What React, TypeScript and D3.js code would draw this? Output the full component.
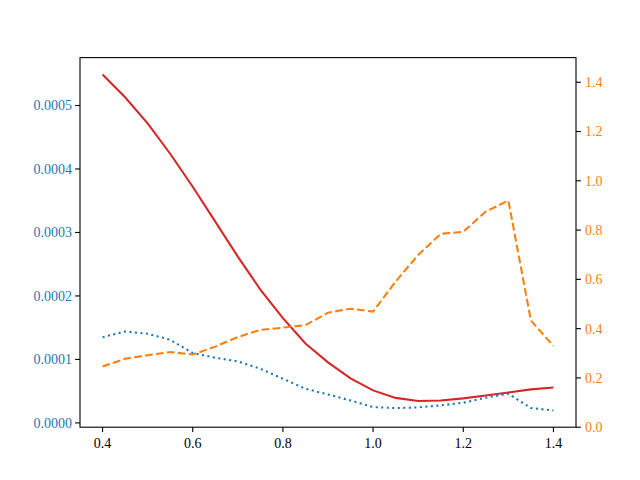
import React from "react";
import * as d3 from "d3";

const xs = [0.4, 0.45, 0.5, 0.55, 0.6, 0.65, 0.7, 0.75, 0.8, 0.85, 0.9, 0.95, 1.0, 1.05, 1.1, 1.15, 1.2, 1.25, 1.3, 1.35, 1.4];
const redSeries = [0.000549, 0.000513, 0.000472, 0.000424, 0.000372, 0.000317, 0.000262, 0.00021, 0.000165, 0.000125, 0.0000953, 0.0000701, 0.0000512, 0.0000394, 0.0000346, 0.0000354, 0.0000386, 0.0000433, 0.000048, 0.0000528, 0.0000559];
const blueSeries = [0.000135, 0.000144, 0.0001405, 0.000131, 0.00011, 0.0001027, 0.0000969, 0.0000853, 0.0000696, 0.0000538, 0.0000449, 0.0000354, 0.0000249, 0.0000233, 0.0000244, 0.0000276, 0.0000318, 0.0000397, 0.000046, 0.0000233, 0.0000197];
const orangeSeries = [0.246, 0.278, 0.292, 0.305, 0.295, 0.327, 0.366, 0.395, 0.404, 0.414, 0.465, 0.481, 0.469, 0.591, 0.699, 0.785, 0.793, 0.875, 0.92, 0.433, 0.33];
const xTicks = [0.4, 0.6, 0.8, 1.0, 1.2, 1.4];
const leftTicks = [0, 0.0001, 0.0002, 0.0003, 0.0004, 0.0005];
const rightTicks = [0, 0.2, 0.4, 0.6, 0.8, 1.0, 1.2, 1.4];
const rightDomain = [0, 1.5];

const W = 640, H = 480;
const L = 80, R = 576, T = 57.6, B = 427.2;
const FONT = "'Liberation Serif', 'DejaVu Serif', serif";
const LW = 2.08;

export default function App() {
  const xMin = d3.min(xs)!, xMax = d3.max(xs)!;
  const xPad = (xMax - xMin) * 0.05;
  const x = d3.scaleLinear().domain([xMin - xPad, xMax + xPad]).range([L, R]);
  const lAll = [...redSeries, ...blueSeries];
  const lMin = d3.min(lAll)!, lMax = d3.max(lAll)!;
  const lPad = (lMax - lMin) * 0.05;
  const yL = d3.scaleLinear().domain([lMin - lPad, lMax + lPad]).range([B, T]);
  const yR = d3.scaleLinear().domain(rightDomain).range([B, T]);

  const lineL = (vals: number[]) =>
    d3.line<number>().x((_, i) => x(xs[i])).y((v) => yL(v))(vals) || "";
  const lineR = (vals: number[]) =>
    d3.line<number>().x((_, i) => x(xs[i])).y((v) => yR(v))(vals) || "";

  const fmtL = d3.format(".4f");
  const fmtR = d3.format(".1f");
  const fmtX = d3.format(".1f");

  return (
    <svg width={W} height={H} style={{ position: "absolute", left: 0, top: 0, background: "#fff" }}>
      <rect x={0} y={0} width={W} height={H} fill="#fff" />
      <path d={lineL(redSeries)} fill="none" stroke="#d62728" strokeWidth={LW} />
      <path d={lineL(blueSeries)} fill="none" stroke="#1f77b4" strokeWidth={LW} strokeDasharray="2.08,3.44" />
      <path d={lineR(orangeSeries)} fill="none" stroke="#ff7f0e" strokeWidth={LW} strokeDasharray="7.7,3.33" />
      <rect x={L} y={T} width={R - L} height={B - T} fill="none" stroke="#000" strokeWidth={1.1} />
      {xTicks.map((t) => (
        <g key={"x" + t}>
          <line x1={x(t)} x2={x(t)} y1={B} y2={B + 4.9} stroke="#000" strokeWidth={1.1} />
          <text x={x(t)} y={B + 20.5} textAnchor="middle" fontFamily={FONT} fontSize={14} fill="#000">{fmtX(t)}</text>
        </g>
      ))}
      {leftTicks.map((t) => (
        <g key={"l" + t}>
          <line x1={L - 4.9} x2={L} y1={yL(t)} y2={yL(t)} stroke="#000" strokeWidth={1.1} />
          <text x={L - 8} y={yL(t)} dy="0.35em" textAnchor="end" fontFamily={FONT} fontSize={14} fill="#1f77b4">{fmtL(t)}</text>
        </g>
      ))}
      {rightTicks.map((t) => (
        <g key={"r" + t}>
          <line x1={R} x2={R + 4.9} y1={yR(t)} y2={yR(t)} stroke="#000" strokeWidth={1.1} />
          <text x={R + 9} y={yR(t)} dy="0.35em" textAnchor="start" fontFamily={FONT} fontSize={14} fill="#ff7f0e">{fmtR(t)}</text>
        </g>
      ))}
    </svg>
  );
}
